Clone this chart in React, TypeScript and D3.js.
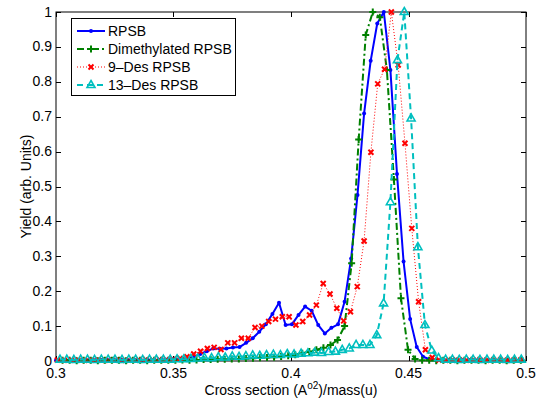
import React, { useEffect, useRef } from "react";
import * as d3 from "d3";

// RPSB
const rpsbX = [
  0.3, 0.3028, 0.3056, 0.3084, 0.3112, 0.314, 0.3167, 0.3195, 0.3223, 0.3251,
  0.3279, 0.3307, 0.3335, 0.3363, 0.3391, 0.3419, 0.3446, 0.3474, 0.3502, 0.353,
  0.3558, 0.3586, 0.3614, 0.3642, 0.367, 0.3698, 0.3725, 0.3753, 0.3781, 0.3809,
  0.3837, 0.3865, 0.3893, 0.3921, 0.3949, 0.3977, 0.4004, 0.4032, 0.406, 0.4088,
  0.4116, 0.4144, 0.4172, 0.42, 0.4228, 0.4256, 0.4283, 0.4311, 0.4339, 0.4367,
  0.4395, 0.4423, 0.4451, 0.4479, 0.4507, 0.4535, 0.4562, 0.459, 0.4618, 0.4646,
  0.4674, 0.4702, 0.473, 0.4758, 0.4786, 0.4814, 0.4841, 0.4869, 0.4897, 0.4925,
  0.4953, 0.4981,
];
const rpsbY = [
  0.002, 0.003, 0.002, 0.002, 0.003, 0.002, 0.002, 0.003, 0.002, 0.002,
  0.003, 0.002, 0.003, 0.002, 0.003, 0.003, 0.004, 0.004, 0.005, 0.006,
  0.008, 0.012, 0.02, 0.028, 0.036, 0.035, 0.036, 0.039, 0.04, 0.052,
  0.065, 0.084, 0.105, 0.135, 0.167, 0.103, 0.105, 0.132, 0.156, 0.144,
  0.103, 0.079, 0.095, 0.105, 0.17, 0.294, 0.476, 0.709, 0.86, 0.967,
  1.0, 0.834, 0.536, 0.285, 0.12, 0.04, 0.012, 0.005, 0.003, 0.002,
  0.003, 0.002, 0.002, 0.003, 0.002, 0.002, 0.003, 0.002, 0.002, 0.003,
  0.002, 0.002,
];

// Dimethylated RPSB
const dimX = [
  0.3028, 0.3058, 0.3088, 0.3118, 0.3148, 0.3178, 0.3208, 0.3238, 0.3268, 0.3298,
  0.3328, 0.3358, 0.3388, 0.3418, 0.3448, 0.3478, 0.3508, 0.3538, 0.3568, 0.3598,
  0.3628, 0.3658, 0.3688, 0.3718, 0.3748, 0.3778, 0.3808, 0.3838, 0.3868, 0.3898,
  0.3928, 0.3958, 0.3988, 0.4018, 0.4048, 0.4078, 0.4108, 0.4138, 0.4168, 0.4198,
  0.4228, 0.4258, 0.4288, 0.4318, 0.4348, 0.4378, 0.4408, 0.4438, 0.4468, 0.4498,
  0.4528, 0.4558, 0.4588, 0.4618, 0.4648, 0.4678, 0.4708, 0.4738, 0.4768, 0.4798,
  0.4828, 0.4858, 0.4888, 0.4918, 0.4948, 0.4978,
];
const dimY = [
  0.002, 0.002, 0.001, 0.002, 0.002, 0.001, 0.002, 0.002, 0.002, 0.001,
  0.002, 0.002, 0.001, 0.002, 0.002, 0.002, 0.002, 0.003, 0.002, 0.003,
  0.004, 0.004, 0.005, 0.005, 0.006, 0.006, 0.007, 0.008, 0.009, 0.01,
  0.011, 0.013, 0.015, 0.018, 0.022, 0.027, 0.032, 0.038, 0.046, 0.06,
  0.1, 0.28, 0.635, 0.934, 1.0, 0.985, 0.834, 0.52, 0.18, 0.032,
  0.006, 0.002, 0.002, 0.001, 0.002, 0.002, 0.001, 0.002, 0.002, 0.002,
  0.001, 0.002, 0.002, 0.001, 0.002, 0.002,
];

// 9-Des RPSB
const des9X = [
  0.3006, 0.3035, 0.3064, 0.3093, 0.3122, 0.3151, 0.318, 0.3209, 0.3238, 0.3267,
  0.3296, 0.3325, 0.3354, 0.3383, 0.3412, 0.3441, 0.347, 0.3499, 0.3528, 0.3557,
  0.3586, 0.3615, 0.3644, 0.3673, 0.3702, 0.3731, 0.376, 0.3789, 0.3818, 0.3847,
  0.3876, 0.3905, 0.3934, 0.3963, 0.3992, 0.4021, 0.405, 0.4079, 0.4108, 0.4137,
  0.4166, 0.4195, 0.4224, 0.4253, 0.4282, 0.4311, 0.434, 0.4369, 0.4398, 0.4427,
  0.4456, 0.4485, 0.4514, 0.4543, 0.4572, 0.4601, 0.463, 0.4659, 0.4688, 0.4717,
  0.4746, 0.4775, 0.4804, 0.4833, 0.4862, 0.4891, 0.492, 0.4949, 0.4978,
];
const des9Y = [
  0.003, 0.002, 0.003, 0.003, 0.002, 0.003, 0.003, 0.002, 0.003, 0.003,
  0.002, 0.003, 0.003, 0.004, 0.003, 0.004, 0.004, 0.005, 0.007, 0.012,
  0.02, 0.028, 0.036, 0.039, 0.033, 0.052, 0.052, 0.065, 0.065, 0.096,
  0.1, 0.113, 0.12, 0.127, 0.127, 0.103, 0.113, 0.132, 0.16, 0.222,
  0.192, 0.151, 0.115, 0.141, 0.213, 0.344, 0.598, 0.794, 0.836, 1.0,
  0.848, 0.624, 0.38, 0.17, 0.032, 0.01, 0.003, 0.002, 0.003, 0.003,
  0.002, 0.003, 0.003, 0.002, 0.003, 0.003, 0.002, 0.003, 0.003,
];

// 13-Des RPSB
const des13X = [
  0.3017, 0.3046, 0.3076, 0.3105, 0.3134, 0.3164, 0.3193, 0.3222, 0.3251, 0.3281,
  0.331, 0.3339, 0.3369, 0.3398, 0.3427, 0.3457, 0.3486, 0.3515, 0.3544, 0.3574,
  0.3603, 0.3632, 0.3662, 0.3691, 0.372, 0.375, 0.3779, 0.3808, 0.3837, 0.3867,
  0.3896, 0.3925, 0.3955, 0.3984, 0.4013, 0.4043, 0.4072, 0.4101, 0.413, 0.416,
  0.4189, 0.4218, 0.4248, 0.4277, 0.4306, 0.4336, 0.4365, 0.4394, 0.4423, 0.4453,
  0.4482, 0.4511, 0.454, 0.457, 0.4599, 0.4628, 0.4658, 0.4687, 0.4716, 0.4746,
  0.4775, 0.4804, 0.4834, 0.4863, 0.4892, 0.4922, 0.4951, 0.498,
];
const des13Y = [
  0.004, 0.004, 0.003, 0.004, 0.004, 0.003, 0.004, 0.004, 0.004, 0.003,
  0.004, 0.004, 0.003, 0.004, 0.004, 0.004, 0.004, 0.005, 0.005, 0.006,
  0.007, 0.009, 0.008, 0.011, 0.01, 0.013, 0.012, 0.014, 0.016, 0.015,
  0.017, 0.018, 0.017, 0.02, 0.019, 0.021, 0.022, 0.024, 0.023, 0.026,
  0.027, 0.032, 0.036, 0.046, 0.046, 0.046, 0.074, 0.165, 0.455, 0.862,
  1.0, 0.695, 0.326, 0.103, 0.03, 0.008, 0.004, 0.004, 0.003, 0.004,
  0.004, 0.003, 0.004, 0.004, 0.004, 0.003, 0.004, 0.004,
];

const seriesNames = ["RPSB", "Dimethylated RPSB", "9–Des RPSB", "13–Des RPSB"];
const xTicks = [0.3, 0.35, 0.4, 0.45, 0.5];
const yTicks = [0, 0.1, 0.2, 0.3, 0.4, 0.5, 0.6, 0.7, 0.8, 0.9, 1];

const width = 538;
const height = 401;
const plot = { left: 56, right: 526, top: 12, bottom: 361 };
const font = "'Liberation Sans', Arial, Helvetica, sans-serif";
const fs = 14;

const styles = [
  { color: "#0000ff", width: 2, dash: null, marker: "dot" },
  { color: "#008000", width: 2, dash: "7,3,2,3", marker: "plus" },
  { color: "#ff0000", width: 1, dash: "1,2", marker: "cross" },
  { color: "#00bfbf", width: 2, dash: "6,4", marker: "tri" },
];

const drawMarker = (g, kind, color, cx, cy) => {
  if (kind === "dot") {
    g.append("circle").attr("cx", cx).attr("cy", cy).attr("r", 2).attr("fill", color);
  } else if (kind === "plus") {
    g.append("path")
      .attr("d", `M${cx - 3.5},${cy}h7M${cx},${cy - 3.5}v7`)
      .attr("stroke", color)
      .attr("stroke-width", 2)
      .attr("fill", "none");
  } else if (kind === "cross") {
    g.append("path")
      .attr("d", `M${cx - 2.5},${cy - 2.5}L${cx + 2.5},${cy + 2.5}M${cx - 2.5},${cy + 2.5}L${cx + 2.5},${cy - 2.5}`)
      .attr("stroke", color)
      .attr("stroke-width", 2)
      .attr("fill", "none");
  } else {
    g.append("path")
      .attr("d", `M${cx},${cy - 4.5}L${cx + 4},${cy + 2.5}L${cx - 4},${cy + 2.5}Z`)
      .attr("stroke", color)
      .attr("stroke-width", 1.6)
      .attr("fill", "none");
  }
};

const App = () => {
  const ref = useRef(null);

  useEffect(() => {
    const svg = d3.select(ref.current);
    svg.selectAll("*").remove();

    const x = d3.scaleLinear().domain([0.3, 0.5]).range([plot.left, plot.right]);
    const y = d3.scaleLinear().domain([0, 1]).range([plot.bottom, plot.top]);

    svg.append("rect").attr("width", width).attr("height", height).attr("fill", "#fff");

    // axes box + inward ticks on all four sides
    const ax = svg.append("g").attr("stroke", "#000").attr("stroke-width", 1);
    ax.append("rect")
      .attr("x", plot.left)
      .attr("y", plot.top)
      .attr("width", plot.right - plot.left)
      .attr("height", plot.bottom - plot.top)
      .attr("fill", "none");
    xTicks.forEach((t) => {
      const px = Math.round(x(t)) + 0.5;
      ax.append("line").attr("x1", px).attr("x2", px).attr("y1", plot.bottom).attr("y2", plot.bottom - 5);
      ax.append("line").attr("x1", px).attr("x2", px).attr("y1", plot.top).attr("y2", plot.top + 5);
    });
    yTicks.forEach((t) => {
      const py = Math.round(y(t)) + 0.5;
      ax.append("line").attr("x1", plot.left).attr("x2", plot.left + 5).attr("y1", py).attr("y2", py);
      ax.append("line").attr("x1", plot.right).attr("x2", plot.right - 5).attr("y1", py).attr("y2", py);
    });

    const lbl = svg.append("g").attr("font-family", font).attr("font-size", fs).attr("fill", "#000");
    xTicks.forEach((t) => {
      lbl.append("text")
        .attr("x", x(t))
        .attr("y", plot.bottom + 17)
        .attr("text-anchor", "middle")
        .text(d3.format("")(t));
    });
    yTicks.forEach((t) => {
      lbl.append("text")
        .attr("x", plot.left - 4)
        .attr("y", y(t) + 4.5)
        .attr("text-anchor", "end")
        .text(d3.format("")(t));
    });

    const xl = lbl.append("text").attr("x", 291).attr("y", 395).attr("text-anchor", "middle");
    xl.append("tspan").text("Cross section (A");
    xl.append("tspan").attr("dy", -6).attr("font-size", 10).text("o2");
    xl.append("tspan").attr("dy", 6).text(")/mass(u)");

    lbl.append("text")
      .attr("transform", `translate(31,${(plot.top + plot.bottom) / 2}) rotate(-90)`)
      .attr("text-anchor", "middle")
      .text("Yield (arb. Units)");

    // data
    const data = [
      [rpsbX, rpsbY],
      [dimX, dimY],
      [des9X, des9Y],
      [des13X, des13Y],
    ];
    const line = d3.line().x((d) => x(d[0])).y((d) => y(d[1]));

    data.forEach(([xs, ys], i) => {
      const s = styles[i];
      const pts = xs.map((v, j) => [v, ys[j]]);
      const g = svg.append("g");
      g.append("path")
        .attr("d", line(pts))
        .attr("fill", "none")
        .attr("stroke", s.color)
        .attr("stroke-width", s.width)
        .attr("stroke-dasharray", s.dash)
        .attr("stroke-linejoin", "round");
      pts.forEach((p) => drawMarker(g, s.marker, s.color, x(p[0]), y(p[1])));
    });

    // legend
    const lg = svg.append("g");
    lg.append("rect")
      .attr("x", 71.5)
      .attr("y", 18.5)
      .attr("width", 164)
      .attr("height", 77)
      .attr("fill", "#fff")
      .attr("stroke", "#000");
    seriesNames.forEach((name, i) => {
      const s = styles[i];
      const ry = 31 + i * 18;
      lg.append("line")
        .attr("x1", 77)
        .attr("x2", 105)
        .attr("y1", ry)
        .attr("y2", ry)
        .attr("stroke", s.color)
        .attr("stroke-width", s.width)
        .attr("stroke-dasharray", s.dash);
      drawMarker(lg, s.marker, s.color, 91, ry);
      lg.append("text")
        .attr("x", 108)
        .attr("y", ry + 5)
        .attr("font-family", font)
        .attr("font-size", fs)
        .text(name);
    });
  }, []);

  return (
    <div style={{ position: "absolute", left: 0, top: 0 }}>
      <svg ref={ref} width={width} height={height} />
    </div>
  );
};

export default App;
